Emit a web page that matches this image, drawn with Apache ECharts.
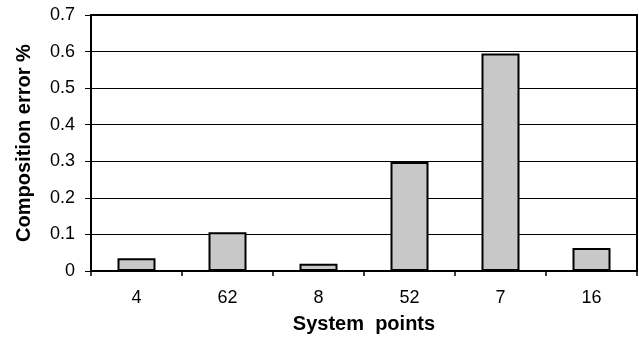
<!DOCTYPE html>
<html>
<head>
<meta charset="utf-8">
<script src="https://cdn.jsdelivr.net/npm/echarts@6/dist/echarts.min.js"></script>
<style>html,body{margin:0;padding:0;background:#fff}#c{width:639px;height:344px}</style>
</head>
<body>
<div id="c"></div>
<script>
const categories = ['4', '62', '8', '52', '7', '16'];
const errorValues = [0.035, 0.106, 0.02, 0.298, 0.595, 0.063];
const yTicks = [0, 0.1, 0.2, 0.3, 0.4, 0.5, 0.6, 0.7];

const chart = echarts.init(document.getElementById('c'), null, {renderer: 'canvas'});
const font = 'Liberation Sans, Arial, sans-serif';
chart.setOption({
  animation: false,
  backgroundColor: '#fff',
  grid: {left: 91, right: 2, top: 15, bottom: 73, show: true, borderColor: '#000', borderWidth: 2, backgroundColor: 'transparent'},
  xAxis: {
    type: 'category',
    data: categories,
    name: 'System  points',
    nameLocation: 'middle',
    nameGap: 43,
    nameTextStyle: {fontFamily: font, fontWeight: 'bold', fontSize: 20, color: '#000'},
    axisLine: {lineStyle: {color: '#000', width: 2}},
    axisTick: {show: true, length: 5, inside: false, lineStyle: {color: '#000', width: 1.5}},
    axisLabel: {fontFamily: font, fontSize: 18, color: '#000', margin: 18},
    splitLine: {show: false}
  },
  yAxis: {
    type: 'value',
    min: yTicks[0],
    max: yTicks[yTicks.length - 1],
    interval: 0.1,
    name: 'Composition error %',
    nameLocation: 'middle',
    nameGap: 57,
    nameRotate: 90,
    nameTextStyle: {fontFamily: font, fontWeight: 'bold', fontSize: 20, color: '#000'},
    axisLine: {show: true, lineStyle: {color: '#000', width: 2}},
    axisTick: {show: true, length: 6, lineStyle: {color: '#000', width: 1}},
    axisLabel: {fontFamily: font, fontSize: 18, color: '#000', margin: 16,
      formatter: v => String(Math.round(v * 10) / 10)},
    splitLine: {show: true, lineStyle: {color: '#000', width: 1}}
  },
  series: [{
    type: 'bar',
    data: errorValues,
    barWidth: 38,
    itemStyle: {color: '#c8c8c8', borderColor: '#000', borderWidth: 2}
  }]
});
</script>
</body>
</html>
